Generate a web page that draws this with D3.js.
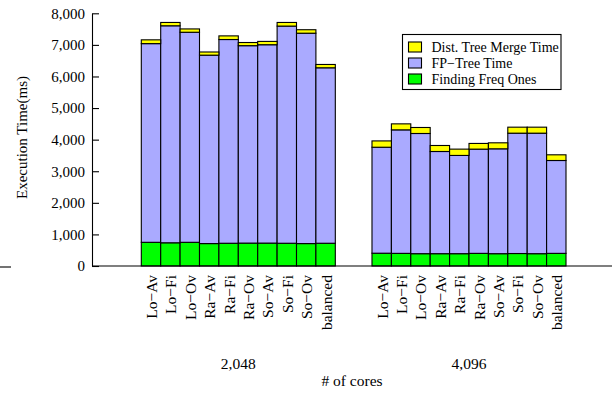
<!DOCTYPE html>
<html>
<head>
<meta charset="utf-8">
<script src="https://cdn.jsdelivr.net/npm/d3@7"></script>
<style>
  html, body { margin: 0; padding: 0; background: #fff; }
  svg { display: block; }
  text { font-family: "Liberation Serif", "Times New Roman", serif; fill: #000; }
</style>
</head>
<body>
<svg id="chart" width="612" height="395"></svg>
<script>
// Execution time breakdown per partitioning strategy, for two core counts
const coreCounts = ["2,048", "4,096"];
const strategies = ["Lo−Av", "Lo−Fi", "Lo−Ov", "Ra−Av", "Ra−Fi", "Ra−Ov", "So−Av", "So−Fi", "So−Ov", "balanced"];
const seriesNames = ["Finding Freq Ones", "FP−Tree Time", "Dist. Tree Merge Time"];
const seriesColors = ["#00ff00", "#aaaaff", "#ffff00"];

// values in ms, one array per core count, in strategy order
const findFreq2048 = [750, 735, 750, 710, 720, 725, 725, 720, 710, 720];
const fpTree2048   = [6290, 6870, 6650, 5965, 6450, 6250, 6280, 6875, 6660, 5555];
const merge2048    = [120, 105, 105, 100, 115, 100, 105, 115, 110, 105];

const findFreq4096 = [405, 400, 390, 390, 390, 400, 390, 395, 390, 400];
const fpTree4096   = [3355, 3910, 3805, 3235, 3110, 3300, 3320, 3810, 3815, 2940];
const merge4096    = [200, 190, 190, 190, 200, 180, 190, 190, 190, 180];

const yTicks = [0, 1000, 2000, 3000, 4000, 5000, 6000, 7000, 8000];

const svg = d3.select("#chart");

// rows for the stack layout
const series2048 = [findFreq2048, fpTree2048, merge2048];
const series4096 = [findFreq4096, fpTree4096, merge4096];
const rows = [];
coreCounts.forEach((g, gi) => {
  const src = gi === 0 ? series2048 : series4096;
  strategies.forEach((s, si) => {
    const r = { group: g, strategy: s };
    seriesNames.forEach((n, k) => { r[n] = src[k][si]; });
    rows.push(r);
  });
});

const stack = d3.stack().keys(seriesNames);
const layers = stack(rows);

// scales
const axisLeftX = 92, baseY = 266, topY = 13.3;
const y = d3.scaleLinear().domain([0, 8000]).range([baseY, topY]);
const x0 = d3.scaleBand().domain(coreCounts).range([141.3, 566]).paddingInner(0.159);
const x1 = d3.scaleBand().domain(strategies).range([0, x0.bandwidth()]).padding(0);

// bars
svg.append("g").selectAll("g")
  .data(layers)
  .join("g")
  .attr("fill", (d, i) => seriesColors[i])
  .selectAll("rect")
  .data(d => d)
  .join("rect")
  .attr("x", d => x0(d.data.group) + x1(d.data.strategy))
  .attr("width", x1.bandwidth())
  .attr("y", d => y(d[1]))
  .attr("height", d => y(d[0]) - y(d[1]))
  .attr("stroke", "#000")
  .attr("stroke-width", 1.1);

// y axis with inward ticks
const yAxis = d3.axisLeft(y)
  .tickValues(yTicks)
  .tickFormat(d3.format(","))
  .tickSizeInner(-7)
  .tickSizeOuter(0)
  .tickPadding(7);
const gy = svg.append("g").attr("transform", `translate(${axisLeftX},0)`).call(yAxis);
gy.selectAll("text").style("font-size", "15px").style("font-family", "Liberation Serif, serif");
gy.selectAll("line, path").attr("stroke", "#000").attr("stroke-width", 1.1);

// baseline
svg.append("line")
  .attr("x1", axisLeftX).attr("x2", 612)
  .attr("y1", baseY).attr("y2", baseY)
  .attr("stroke", "#000").attr("stroke-width", 1.1);
svg.append("line")
  .attr("x1", 0).attr("x2", 11)
  .attr("y1", baseY + 1).attr("y2", baseY + 1)
  .attr("stroke", "#000").attr("stroke-width", 1.1);

// category labels, rotated
coreCounts.forEach(g => {
  svg.append("g").selectAll("text")
    .data(strategies)
    .join("text")
    .attr("transform", s => `translate(${x0(g) + x1(s) + x1.bandwidth() / 2 + 0.5},275) rotate(-90)`)
    .attr("text-anchor", "end")
    .attr("dy", "0.35em")
    .style("font-size", "15.5px")
    .text(s => s);
});

// group labels
svg.append("g").selectAll("text")
  .data(coreCounts)
  .join("text")
  .attr("x", g => x0(g) + x0.bandwidth() / 2)
  .attr("y", 369)
  .attr("text-anchor", "middle")
  .style("font-size", "15.5px")
  .text(g => g);

// axis titles
svg.append("text")
  .attr("x", 352).attr("y", 385.5)
  .attr("text-anchor", "middle")
  .style("font-size", "15.5px")
  .text("# of cores");

svg.append("text")
  .attr("transform", "translate(27,137.5) rotate(-90)")
  .attr("text-anchor", "middle")
  .style("font-size", "15px")
  .text("Execution Time(ms)");

// legend (top series listed first)
const legend = svg.append("g");
legend.append("rect")
  .attr("x", 402.5).attr("y", 34.5)
  .attr("width", 158.5).attr("height", 55)
  .attr("fill", "#fff").attr("stroke", "#000").attr("stroke-width", 1.1);
const legendOrder = [2, 1, 0];
legendOrder.forEach((k, i) => {
  const cy = 47 + i * 16;
  legend.append("rect")
    .attr("x", 408.5).attr("y", cy - 5)
    .attr("width", 13).attr("height", 10)
    .attr("fill", seriesColors[k])
    .attr("stroke", "#000").attr("stroke-width", 1.1);
  legend.append("text")
    .attr("x", 431.5).attr("y", cy)
    .attr("dy", "0.35em")
    .style("font-size", "14px")
    .text(seriesNames[k]);
});
</script>
</body>
</html>
